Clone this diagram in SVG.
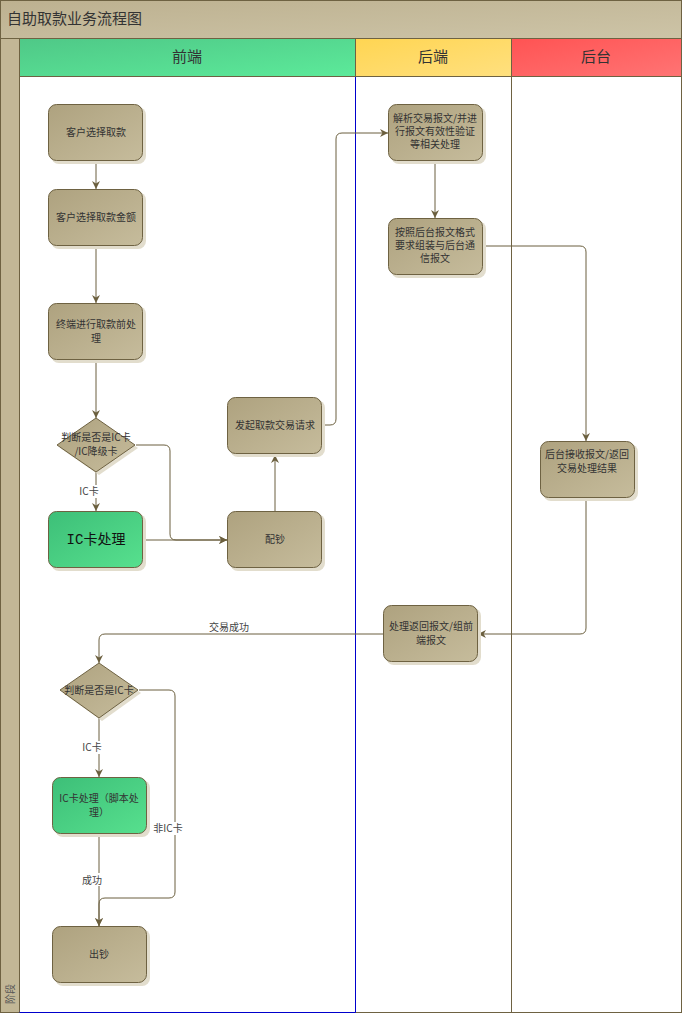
<svg xmlns="http://www.w3.org/2000/svg" width="682" height="1013" viewBox="0 0 682 1013">
<defs>
<linearGradient id="gTan" x1="0" y1="0" x2="1" y2="1"><stop offset="0" stop-color="#aea27f"/><stop offset="1" stop-color="#c6bc9c"/></linearGradient>
<linearGradient id="gGreen" x1="0" y1="0" x2="1" y2="1"><stop offset="0" stop-color="#3dbf78"/><stop offset="1" stop-color="#57e08e"/></linearGradient>
<linearGradient id="gTitle" x1="0" y1="0" x2="1" y2="1"><stop offset="0" stop-color="#bdb190"/><stop offset="1" stop-color="#cdc4a7"/></linearGradient>
<linearGradient id="gH1" x1="0" y1="0" x2="1" y2="1"><stop offset="0" stop-color="#4fc887"/><stop offset="1" stop-color="#5cea9a"/></linearGradient>
<linearGradient id="gH2" x1="0" y1="0" x2="1" y2="1"><stop offset="0" stop-color="#ffd552"/><stop offset="1" stop-color="#ffe07f"/></linearGradient>
<linearGradient id="gH3" x1="0" y1="0" x2="1" y2="1"><stop offset="0" stop-color="#ff5353"/><stop offset="1" stop-color="#ff7474"/></linearGradient>
<marker id="arr" viewBox="0 0 10 10" refX="10" refY="5" markerWidth="8" markerHeight="8" markerUnits="userSpaceOnUse" orient="auto"><path d="M0,0 L10,5 L0,10 L3,5 Z" fill="#6b5f3e"/></marker>
</defs>
<style>
.node{fill:url(#gTan);stroke:#6e6242;stroke-width:1}
.green{fill:url(#gGreen);stroke:#6e6242;stroke-width:1}
.sh{fill:#e2ddcd}
.t{font-family:"Noto Sans CJK SC","Liberation Sans",sans-serif;font-size:10px;fill:#333;text-anchor:middle}
.lbl{font-family:"Noto Sans CJK SC","Liberation Sans",sans-serif;font-size:10px;fill:#444;text-anchor:middle}
.hd{font-family:"Noto Sans CJK SC","Liberation Sans",sans-serif;font-size:15px;fill:#333;text-anchor:middle}
.c{fill:none;stroke:#6b5f3e;stroke-width:1}
.lane{fill:#ffffff;stroke:#6e6242;stroke-width:1}
</style>
<g id="pool">
<rect x="0.5" y="0.5" width="681" height="1012" fill="#ffffff" stroke="#6e6242"/>
<rect x="0.5" y="0.5" width="681" height="38" fill="url(#gTitle)" stroke="#6e6242"/>
<text x="7" y="24" font-family="Noto Sans CJK SC, Liberation Sans, sans-serif" font-size="15" fill="#333">自助取款业务流程图</text>
<rect x="0.5" y="38.5" width="19" height="974" fill="#c2b796" stroke="#6e6242"/>
<text transform="translate(14,1004) rotate(-90)" font-family="Noto Sans CJK SC, Liberation Sans, sans-serif" font-size="10" fill="#555">阶段</text>
</g>
<g id="lane-host">
<rect x="511.5" y="38.5" width="170" height="38" fill="url(#gH3)" stroke="#6e6242"/>
<text class="hd" x="596" y="62">后台</text>
<rect x="511.5" y="76.5" width="170" height="936" class="lane"/>
</g>
<g id="lane-back">
<rect x="355.5" y="38.5" width="156" height="38" fill="url(#gH2)" stroke="#6e6242"/>
<text class="hd" x="433" y="62">后端</text>
<rect x="355.5" y="76.5" width="156" height="936" class="lane"/>
</g>
<g id="lane-front">
<rect x="19.5" y="76.5" width="336" height="936" class="lane"/>
<path d="M355.5,76.5 V1012.5 H19.5" fill="none" stroke="#0000cc"/>
<rect x="19.5" y="38.5" width="336" height="38" fill="url(#gH1)" stroke="#6e6242"/>
<text class="hd" x="187" y="62">前端</text>
</g>
<g id="connectors">
<path class="c" d="M96,161 V189" marker-end="url(#arr)"/>
<path class="c" d="M96,246 V303" marker-end="url(#arr)"/>
<path class="c" d="M96,360 V418" marker-end="url(#arr)"/>
<path class="c" d="M96,472 V511" marker-end="url(#arr)"/>
<path class="c" d="M136,445 H164 Q170,445 170,451 V534 Q170,540 176,540 H227" marker-end="url(#arr)"/>
<path class="c" d="M143,540 H227" marker-end="url(#arr)"/>
<path class="c" d="M275,511 V455" marker-end="url(#arr)"/>
<path class="c" d="M322,425 H330 Q336,425 336,419 V139 Q336,133 342,133 H388" marker-end="url(#arr)"/>
<path class="c" d="M435,161 V218" marker-end="url(#arr)"/>
<path class="c" d="M483,246 H580 Q586,246 586,252 V441" marker-end="url(#arr)"/>
<path class="c" d="M586,498 V628 Q586,634 580,634 H478" marker-end="url(#arr)"/>
<path class="c" d="M383,634 H105 Q99,634 99,640 V663" marker-end="url(#arr)"/>
<path class="c" d="M99,718 V777" marker-end="url(#arr)"/>
<path class="c" d="M139,690 H169 Q175,690 175,696 V892 Q175,898 169,898 H105 Q99,898 99,904 V926" marker-end="url(#arr)"/>
<path class="c" d="M99,834 V926" marker-end="url(#arr)"/>
<rect x="78" y="485" width="22" height="13" fill="#fff"/>
<text class="lbl" x="89" y="495">IC卡</text>
<rect x="206" y="620" width="46" height="13" fill="#fff"/>
<text class="lbl" x="229" y="631">交易成功</text>
<rect x="81" y="741" width="22" height="13" fill="#fff"/>
<text class="lbl" x="92" y="751">IC卡</text>
<rect x="153" y="822" width="30" height="13" fill="#fff"/>
<text class="lbl" x="168" y="832">非IC卡</text>
<rect x="81" y="873" width="22" height="13" fill="#fff"/>
<text class="lbl" x="92" y="884">成功</text>
</g>
<g id="n1"><rect class="sh" x="51" y="107" width="95" height="57" rx="8"/><rect class="node" x="48.5" y="104.5" width="94" height="56" rx="8"/><text class="t" x="96" y="136">客户选择取款</text></g>
<g id="n2"><rect class="sh" x="51" y="192" width="95" height="57" rx="8"/><rect class="node" x="48.5" y="189.5" width="94" height="56" rx="8"/><text class="t" x="96" y="221">客户选择取款金额</text></g>
<g id="n3"><rect class="sh" x="51" y="306" width="95" height="57" rx="8"/><rect class="node" x="48.5" y="303.5" width="94" height="56" rx="8"/><text class="t" x="96" y="328">终端进行取款前处</text><text class="t" x="96" y="342">理</text></g>
<g id="d1"><path class="sh" d="M99,421 L138,448 L99,475 L60,448 Z"/><path class="node" d="M96,418 L135,445 L96,472 L57,445 Z" stroke-linejoin="round"/><text class="t" x="96" y="441">判断是否是IC卡</text><text class="t" x="96" y="455">/IC降级卡</text></g>
<g id="n4"><rect class="sh" x="51" y="514" width="95" height="57" rx="8"/><rect class="green" x="48.5" y="511.5" width="94" height="56" rx="8"/><text x="96" y="544" font-family="Liberation Mono, Noto Sans CJK SC, monospace" font-size="14" fill="#111" text-anchor="middle">IC卡处理</text></g>
<g id="n5"><rect class="sh" x="230" y="514" width="95" height="57" rx="8"/><rect class="node" x="227.5" y="511.5" width="94" height="56" rx="8"/><text class="t" x="275" y="543">配钞</text></g>
<g id="n6"><rect class="sh" x="230" y="400" width="95" height="57" rx="8"/><rect class="node" x="227.5" y="397.5" width="94" height="56" rx="8"/><text class="t" x="275" y="429">发起取款交易请求</text></g>
<g id="n7"><rect class="sh" x="391" y="107" width="95" height="57" rx="8"/><rect class="node" x="388.5" y="104.5" width="94" height="56" rx="8"/><text class="t" x="435" y="122">解析交易报文/并进</text><text class="t" x="435" y="135">行报文有效性验证</text><text class="t" x="435" y="148">等相关处理</text></g>
<g id="n8"><rect class="sh" x="391" y="221" width="95" height="57" rx="8"/><rect class="node" x="388.5" y="218.5" width="94" height="56" rx="8"/><text class="t" x="435" y="236">按照后台报文格式</text><text class="t" x="435" y="249">要求组装与后台通</text><text class="t" x="435" y="262">信报文</text></g>
<g id="n9"><rect class="sh" x="543" y="444" width="95" height="57" rx="8"/><rect class="node" x="540.5" y="441.5" width="94" height="56" rx="8"/><text class="t" x="587" y="458">后台接收报文/返回</text><text class="t" x="587" y="472">交易处理结果</text></g>
<g id="n10"><rect class="sh" x="386" y="608" width="95" height="57" rx="8"/><rect class="node" x="383.5" y="605.5" width="94" height="56" rx="8"/><text class="t" x="431" y="630">处理返回报文/组前</text><text class="t" x="431" y="644">端报文</text></g>
<g id="d2"><path class="sh" d="M102,666 L141,693 L102,721 L63,693 Z"/><path class="node" d="M99,663 L138,690 L99,718 L60,690 Z" stroke-linejoin="round"/><text class="t" x="99" y="694">判断是否是IC卡</text></g>
<g id="n11"><rect class="sh" x="55" y="780" width="95" height="57" rx="8"/><rect class="green" x="52.5" y="777.5" width="94" height="56" rx="8"/><text class="t" x="99" y="802">IC卡处理（脚本处</text><text class="t" x="99" y="816">理）</text></g>
<g id="n12"><rect class="sh" x="55" y="929" width="95" height="57" rx="8"/><rect class="node" x="52.5" y="926.5" width="94" height="56" rx="8"/><text class="t" x="99" y="958">出钞</text></g>
</svg>
